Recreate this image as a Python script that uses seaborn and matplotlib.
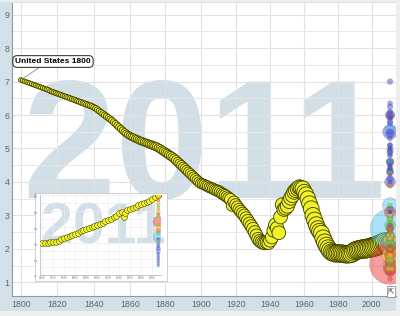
import numpy as np
import pandas as pd
import matplotlib
matplotlib.use("Agg")
import matplotlib.pyplot as plt
from matplotlib.patches import Rectangle
from matplotlib.ticker import MultipleLocator, FixedLocator, NullFormatter
import seaborn as sns

# ---------------- data ----------------
us_years = list(range(1800, 2012))
us_tfr = [
    7.05, 7.03, 7.01, 6.99, 6.97, 6.95, 6.93, 6.91, 6.89, 6.87,
    6.85, 6.83, 6.81, 6.79, 6.77, 6.75, 6.72, 6.70, 6.68, 6.66,
    6.64, 6.62, 6.60, 6.58, 6.56, 6.54, 6.52, 6.50, 6.48, 6.46,
    6.44, 6.42, 6.40, 6.38, 6.36, 6.34, 6.32, 6.30, 6.28, 6.26,
    6.23, 6.20, 6.16, 6.12, 6.08, 6.04, 6.00, 5.96, 5.92, 5.88,
    5.84, 5.79, 5.74, 5.69, 5.64, 5.59, 5.54, 5.49, 5.45, 5.41,
    5.38, 5.35, 5.33, 5.30, 5.28, 5.25, 5.23, 5.21, 5.19, 5.17,
    5.15, 5.13, 5.11, 5.09, 5.07, 5.05, 5.02, 4.99, 4.95, 4.92,
    4.88, 4.85, 4.81, 4.78, 4.74, 4.70, 4.65, 4.60, 4.55, 4.50,
    4.45, 4.40, 4.35, 4.30, 4.25, 4.20, 4.15, 4.10, 4.05, 4.00,
    3.96, 3.94, 3.92, 3.89, 3.87, 3.84, 3.82, 3.80, 3.77, 3.75,
    3.73, 3.70, 3.66, 3.63, 3.60, 3.56, 3.52, 3.48, 3.30, 3.40,
    3.32, 3.25, 3.18, 3.12, 3.06, 3.00, 2.92, 2.84, 2.76, 2.68,
    2.60, 2.50, 2.40, 2.30, 2.24, 2.20, 2.18, 2.17, 2.19, 2.18,
    2.25, 2.35, 2.55, 2.72, 2.62, 2.48, 2.95, 3.32, 3.18, 3.22,
    3.28, 3.42, 3.52, 3.60, 3.70, 3.75, 3.80, 3.84, 3.82, 3.80,
    3.70, 3.62, 3.50, 3.35, 3.20, 3.00, 2.86, 2.72, 2.60, 2.52,
    2.46, 2.32, 2.20, 2.10, 2.02, 1.95, 1.90, 1.88, 1.86, 1.86,
    1.87, 1.86, 1.86, 1.85, 1.84, 1.84, 1.84, 1.85, 1.86, 1.90,
    1.94, 1.96, 1.97, 1.98, 1.99, 2.00, 2.00, 2.01, 2.02, 2.03,
    2.05, 2.06, 2.07, 2.09, 2.11, 2.13, 2.15, 2.17, 2.19, 2.16,
    2.12, 2.10,
]
us_pop = [
    5.3, 5.5, 5.6, 5.8, 6.0, 6.2, 6.4, 6.6, 6.8, 7.0,
    7.2, 7.4, 7.7, 7.9, 8.1, 8.4, 8.6, 8.9, 9.1, 9.4,
    9.6, 9.9, 10.2, 10.6, 10.9, 11.3, 11.6, 12.0, 12.3, 12.6,
    12.9, 13.3, 13.7, 14.1, 14.5, 15.0, 15.4, 15.9, 16.3, 16.7,
    17.1, 17.7, 18.2, 18.8, 19.4, 20.0, 20.6, 21.3, 21.9, 22.6,
    23.2, 24.0, 24.8, 25.6, 26.4, 27.3, 28.1, 29.0, 29.8, 30.6,
    31.4, 32.1, 32.8, 33.5, 34.2, 35.0, 35.7, 36.4, 37.1, 37.9,
    38.6, 39.7, 40.8, 41.9, 43.0, 44.2, 45.4, 46.6, 47.8, 49.0,
    50.2, 51.5, 52.8, 54.0, 55.3, 56.6, 57.9, 59.1, 60.4, 61.8,
    63.0, 64.4, 65.7, 67.0, 68.3, 69.6, 70.9, 72.2, 73.5, 74.8,
    76.1, 77.6, 79.2, 80.6, 82.2, 83.8, 85.5, 87.0, 88.7, 90.5,
    92.2, 93.9, 95.3, 97.2, 99.1, 100.5, 101.9, 103.3, 103.2, 104.5,
    106.5, 108.5, 110.1, 112.0, 114.1, 115.8, 117.4, 119.0, 120.5, 121.8,
    123.1, 124.1, 124.8, 125.6, 126.4, 127.3, 128.1, 128.8, 129.8, 130.9,
    132.1, 133.4, 134.9, 136.7, 138.4, 139.9, 141.4, 144.1, 146.6, 149.2,
    151.9, 154.3, 156.6, 159.0, 161.9, 165.1, 168.1, 171.2, 174.1, 177.1,
    179.3, 183.0, 185.8, 188.5, 191.1, 193.5, 195.6, 197.5, 199.4, 201.4,
    203.2, 207.7, 209.9, 211.9, 213.9, 216.0, 218.0, 220.2, 222.6, 225.1,
    227.2, 229.5, 231.7, 233.8, 235.8, 237.9, 240.1, 242.3, 244.5, 246.8,
    249.6, 253.0, 256.5, 260.0, 263.1, 266.3, 269.4, 272.6, 275.9, 279.0,
    282.2, 285.0, 287.6, 290.1, 292.8, 295.5, 298.4, 301.2, 304.1, 306.8,
    309.3, 311.6,
]

# world in 2011, by region (fertility, population in millions)
ssa_tfr = [7.0, 6.35, 6.25, 6.1, 6.0, 6.0, 5.95, 5.9, 5.8, 5.75, 5.5, 5.5, 5.45, 5.3,
           5.1, 5.1, 5.0, 5.0, 5.0, 4.9, 4.9, 4.8, 4.8, 4.6, 4.6, 4.5, 4.5, 4.4, 4.4,
           4.4, 4.3, 4.3, 4.1, 4.0, 4.0, 3.2, 3.2, 3.1, 3.1, 2.7, 2.4, 1.5]
ssa_pop = [16.1, 9.9, 15.8, 11.8, 64.0, 34.5, 13.5, 8.6, 17.0, 15.4, 19.6, 162.0, 46.0, 10.9,
           10.2, 9.1, 4.1, 1.5, 0.7, 24.0, 6.0, 12.8, 1.8, 41.6, 21.3, 4.5, 4.1, 20.0, 5.4,
           3.5, 34.3, 20.2, 25.0, 84.7, 6.2, 12.8, 1.5, 2.2, 2.3, 2.0, 50.5, 1.3]
sa_tfr = [2.6, 3.3, 2.2, 5.6, 2.6, 2.3]
sa_pop = [1241.0, 176.0, 150.0, 32.0, 30.0, 21.0]
mena_tfr = [5.0, 4.6, 4.3, 3.3, 2.9, 2.9, 2.7, 2.7, 2.5, 2.2, 2.2, 2.2, 2.1, 2.0, 1.7, 1.6]
mena_pop = [24.8, 32.7, 4.0, 6.2, 20.8, 7.6, 82.5, 28.0, 6.4, 36.0, 32.0, 2.8, 73.6, 10.6, 7.9, 74.8]
amer_tfr = [3.9, 3.2, 3.2, 3.0, 2.5, 2.4, 2.4, 2.3, 2.3, 2.2, 1.8, 1.8, 1.7, 1.5]
amer_pop = [14.8, 10.1, 10.1, 7.8, 14.7, 29.4, 29.3, 114.8, 46.9, 40.8, 196.7, 17.3, 34.3, 11.3]
eca_tfr = [3.2, 2.7, 2.6, 2.3, 2.3, 2.0, 1.9, 1.8, 1.5, 1.4, 1.4, 1.4, 1.4, 1.4, 1.4]
eca_pop = [7.0, 5.5, 16.2, 28.5, 5.1, 65.0, 62.4, 16.7, 142.8, 82.2, 60.8, 46.5, 45.2, 38.3, 21.4]
eap_tfr = [6.0, 4.2, 3.9, 3.1, 2.7, 2.6, 2.6, 2.5, 2.1, 2.1, 2.0, 2.0, 1.9, 1.8, 1.6, 1.55,
           1.4, 1.3, 1.3, 1.1]
eap_pop = [1.1, 0.55, 7.0, 94.9, 6.3, 28.9, 14.3, 2.8, 242.0, 4.4, 48.3, 24.5, 22.6, 87.8,
           69.5, 1344.0, 127.8, 49.8, 5.2, 7.1]

region_colors = {"ssa": "#3f51e0", "sa": "#56c6f0", "mena": "#5fd23a",
                 "amer": "#f0e81a", "eca": "#ffa033", "eap": "#f03c3c"}

x_ticks = [1800, 1820, 1840, 1860, 1880, 1900, 1920, 1940, 1960, 1980, 2000]
y_ticks = [1, 2, 3, 4, 5, 6, 7, 8, 9]

# inset (small thumbnail chart)
inset_years = [1800, 1805, 1810, 1815, 1820, 1825, 1830, 1835, 1840, 1845, 1850, 1855,
               1860, 1865, 1870, 1875, 1880, 1885, 1890, 1895, 1900, 1905, 1910, 1915,
               1920, 1925, 1930, 1935, 1940, 1945, 1948, 1950, 1955, 1960, 1965, 1970,
               1975, 1980, 1985, 1990, 1995, 2000, 2005, 2010, 2011]
inset_vals = [39.6, 40.0, 40.5, 41.0, 41.3, 41.7, 43.0, 44.5, 46.0, 47.3, 48.5, 50.0,
              51.5, 53.0, 54.5, 56.0, 57.0, 58.5, 60.0, 61.5, 62.5, 64.0, 65.0, 67.0,
              69.0, 70.5, 72.0, 74.0, 78.0, 79.0, 72.9, 78.0, 81.5, 83.0, 84.0, 85.5,
              87.0, 88.5, 90.0, 91.0, 93.0, 95.0, 97.5, 99.5, 100.0]
inset_world_vals = [96, 93, 90, 88, 85, 82, 79, 76, 73, 70, 66.6, 63, 60, 56, 52, 47.9,
                    45, 42, 39, 36, 33, 30, 27, 24, 21, 18, 15, 12]
inset_world_regions = ["eca", "eap", "amer", "eca", "mena", "eca", "amer", "eap", "mena",
                       "amer", "eap", "mena", "amer", "eap", "mena", "sa", "ssa", "mena",
                       "ssa", "ssa", "ssa", "sa", "ssa", "ssa", "ssa", "ssa", "ssa", "ssa"]
inset_world_pops = [60, 40, 30, 80, 25, 45, 110, 90, 70, 40, 1344, 30, 190, 240, 80, 1241,
                    60, 30, 85, 40, 160, 170, 45, 20, 35, 25, 15, 10]
inset_y_ticks = [0, 20, 40, 60, 80, 100]

# ---------------- style ----------------
sns.set_theme(style="white")
plt.rcParams["font.family"] = ["Liberation Sans", "DejaVu Sans"]

W, H = 400, 316
def fx(px):
    return px / W
def fy(py):
    return 1 - py / H

fig = plt.figure(figsize=(4.0, 3.16), dpi=100, facecolor="#eeeeee")
fig.add_artist(Rectangle((fx(0), fy(311)), fx(396) - fx(0), fy(2) - fy(311),
                         transform=fig.transFigure, facecolor="#d4e0e8",
                         edgecolor="none", zorder=-5))

ax = fig.add_axes([fx(12), fy(296), fx(396) - fx(12), fy(3) - fy(296)])
ax.set_facecolor("white")
ax.set_axisbelow(True)

# time axis matching the reference tick spacing
def fwd(x):
    t = np.asarray(x, dtype=float) - 1900.0
    return 1.755 * t - 0.00045 * t * t
def inv(y):
    y = np.asarray(y, dtype=float)
    disc = np.clip(1.755 ** 2 - 4 * 0.00045 * y, 0, None)
    return 1900.0 + (1.755 - np.sqrt(disc)) / (2 * 0.00045)

size_range = (6.7, 872.0)
size_norm = (0, 1350)

us_df = pd.DataFrame({"year": us_years, "tfr": us_tfr, "pop": us_pop})
sns.scatterplot(data=us_df, x="year", y="tfr", size="pop", sizes=size_range,
                size_norm=size_norm, color="#f2f22a", edgecolor="#3a3a00",
                linewidth=0.6, alpha=1.0, legend=False, ax=ax, zorder=3)

frames = []
for reg, t, p in [("ssa", ssa_tfr, ssa_pop), ("sa", sa_tfr, sa_pop),
                  ("mena", mena_tfr, mena_pop), ("amer", amer_tfr, amer_pop),
                  ("eca", eca_tfr, eca_pop), ("eap", eap_tfr, eap_pop)]:
    frames.append(pd.DataFrame({"region": reg, "tfr": t, "pop": p}))
world = pd.concat(frames, ignore_index=True)
world["year"] = 2011
world = world.sort_values("pop", ascending=False)
sns.scatterplot(data=world, x="year", y="tfr", hue="region", palette=region_colors,
                size="pop", sizes=size_range, size_norm=size_norm, alpha=0.5,
                edgecolor="#666666", linewidth=0.3, legend=False, ax=ax, zorder=4)

ax.set_xscale("function", functions=(fwd, inv))
ax.set_xlim(1795.3, 2014.6)
ax.set_ylim(0.59, 9.35)
ax.xaxis.set_major_locator(FixedLocator(x_ticks))
ax.xaxis.set_minor_locator(FixedLocator([]))
ax.set_xticklabels([str(v) for v in x_ticks])
ax.yaxis.set_major_locator(FixedLocator(y_ticks))
ax.set_yticklabels([str(v) for v in y_ticks])
ax.yaxis.set_minor_locator(MultipleLocator(0.5))
ax.yaxis.set_minor_formatter(NullFormatter())
ax.grid(True, which="major", color="#e2e2e2", lw=0.8)
ax.grid(True, which="minor", axis="y", color="#e8e8e8", lw=0.7)
ax.set_xlabel("")
ax.set_ylabel("")
for s in ["top", "right"]:
    ax.spines[s].set_visible(False)
for s in ["left", "bottom"]:
    ax.spines[s].set_color("#8d9aa5")
    ax.spines[s].set_linewidth(0.8)
ax.tick_params(axis="both", which="major", direction="in", length=2.5, width=0.6,
               color="#8d9aa5", labelcolor="#5a6673", labelsize=6.3)
ax.tick_params(axis="y", which="minor", direction="in", length=1.5, width=0.5,
               color="#8d9aa5")
ax.tick_params(axis="y", which="major", pad=1.8)
ax.tick_params(axis="x", which="major", pad=3.2)

# big year watermark
ax.text(fx(22), fy(198), "2011", transform=fig.transFigure, fontsize=120.7,
        fontweight="bold", color="#d2dfe7", ha="left", va="baseline", zorder=0.2)

# label for the first bubble
ax.annotate("United States 1800", xy=(us_years[0], us_tfr[0]), xycoords="data",
            xytext=(fx(53), fy(61.5)), textcoords="figure fraction",
            ha="center", va="center", fontsize=6, fontweight="bold", color="black",
            bbox=dict(boxstyle="round,pad=0.28,rounding_size=0.5", fc="white",
                      ec="#222222", lw=0.7),
            arrowprops=dict(arrowstyle="-", color="#8a8a8a", lw=0.6,
                            shrinkA=0, shrinkB=2, relpos=(0.37, 0.0)),
            zorder=6)

# small icon bottom-right
fig.text(fx(391), fy(291.5), "⇱", fontsize=5.5, family=["DejaVu Sans"], ha="center",
         va="center", color="#333333",
         bbox=dict(boxstyle="square,pad=0.08", fc="white", ec="#777777", lw=0.5),
         zorder=7)

# ---------------- inset thumbnail ----------------
fig.add_artist(Rectangle((fx(35), fy(281)), fx(167) - fx(35), fy(193) - fy(281),
                         transform=fig.transFigure, facecolor="white",
                         edgecolor="#c4c8cc", lw=0.6, zorder=5))
axi = fig.add_axes([fx(40), fy(275), fx(161) - fx(40), fy(195) - fy(275)], zorder=6)
axi.set_facecolor("white")
axi.set_axisbelow(True)
axi.text(fx(41.3), fy(243), "2011", transform=fig.transFigure, fontsize=41.3,
         fontweight="bold", color="#d2dfe7", ha="left", va="baseline", zorder=0.2)
inset_df = pd.DataFrame({"year": inset_years, "val": inset_vals})
sns.scatterplot(data=inset_df, x="year", y="val", color="#f2f22a", edgecolor="#3a3a00",
                linewidth=0.35, s=18, legend=False, ax=axi, zorder=3)
iw = pd.DataFrame({"region": inset_world_regions, "val": inset_world_vals,
                   "pop": inset_world_pops})
iw["year"] = 2011
iw = iw.sort_values("pop", ascending=False)
sns.scatterplot(data=iw, x="year", y="val", hue="region", palette=region_colors,
                size="pop", sizes=(4, 60), size_norm=size_norm, alpha=0.5,
                edgecolor="#777777", linewidth=0.2, legend=False, ax=axi, zorder=4)
axi.set_xlim(1796, 2016)
axi.set_ylim(0, 100)
axi.xaxis.set_major_locator(FixedLocator(x_ticks))
axi.set_xticklabels([str(v) for v in x_ticks])
axi.yaxis.set_major_locator(FixedLocator(inset_y_ticks))
axi.set_yticklabels([str(v) for v in inset_y_ticks])
axi.yaxis.set_minor_locator(MultipleLocator(10))
axi.grid(True, which="both", color="#ececec", lw=0.4)
axi.set_xlabel("")
axi.set_ylabel("")
for s in ["top", "right"]:
    axi.spines[s].set_visible(False)
for s in ["left", "bottom"]:
    axi.spines[s].set_color("#a8b2bb")
    axi.spines[s].set_linewidth(0.5)
axi.tick_params(axis="both", which="both", direction="in", length=1, width=0.3,
                color="#a8b2bb", labelcolor="#7a8590", labelsize=2.2, pad=0.8)
for lab in axi.get_yticklabels():
    lab.set_rotation(90)
    lab.set_va("center")

fig.savefig("out.png", dpi=100, facecolor=fig.get_facecolor())
